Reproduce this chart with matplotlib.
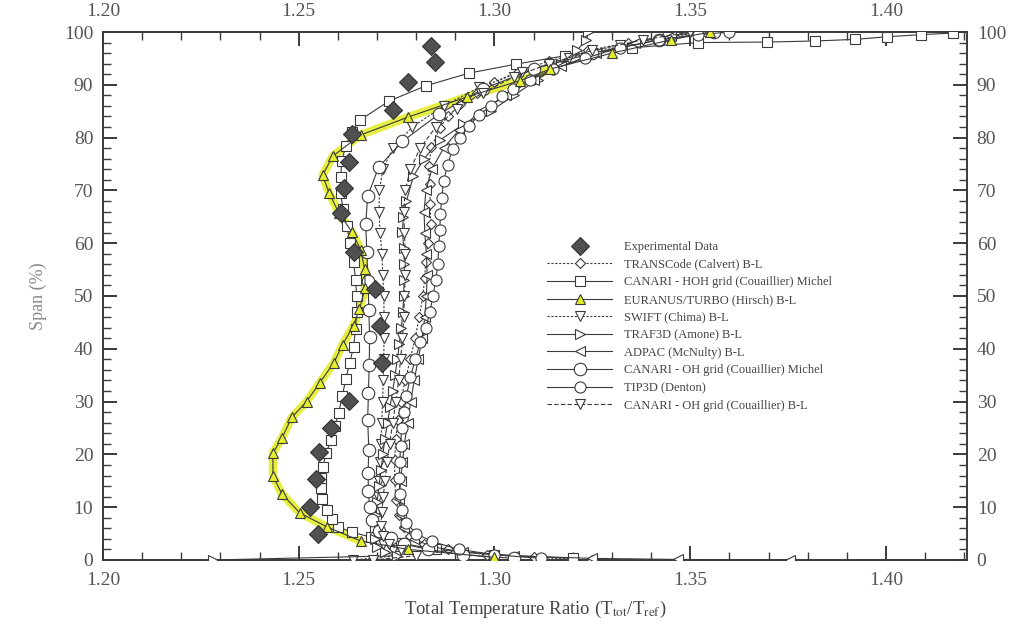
import matplotlib
matplotlib.use("Agg")
import matplotlib.pyplot as plt
from matplotlib.ticker import MultipleLocator, FormatStrFormatter

plt.rcParams['font.family'] = ['Liberation Serif', 'DejaVu Serif']
plt.rcParams['mathtext.fontset'] = 'stix'

# ---- data (x = Ttot/Tref, y = span %) ----
exp_y = [4.9, 10.1, 15.4, 20.5, 25.0, 30.2, 37.4, 44.4, 51.4, 58.3, 65.8, 70.4, 75.3, 80.6, 85.2, 90.5, 94.3, 97.3]
exp_x = [1.2548, 1.2528, 1.2543, 1.2551, 1.2582, 1.2628, 1.2712, 1.2707, 1.2694, 1.2640, 1.2607, 1.2615,
         1.2628, 1.2635, 1.2740, 1.2778, 1.2847, 1.2839]

transcode_y = [0, 0.5, 1.0, 2.0, 3.0, 4.5, 6.3, 8.5, 11.4, 15.2, 19.0, 23.0, 26.6, 30.0, 34.0, 38.0, 42.0,
               46.0, 50.0, 53.5, 56.5, 60.0, 63.6, 67.5, 71.2, 74.6, 78.2, 81.8, 84.0, 86.3, 88.5, 90.5,
               92.5, 94.5, 96.5, 98.0, 99.2, 100]
transcode_x = [1.325, 1.310, 1.298, 1.288, 1.282, 1.2785, 1.2770, 1.2755, 1.2748, 1.2745, 1.2745, 1.2748,
               1.2753, 1.2760, 1.2772, 1.2785, 1.2797, 1.2808, 1.2817, 1.2822, 1.2824, 1.2830, 1.2837,
               1.2836, 1.2834, 1.2832, 1.2839, 1.2860, 1.2880, 1.2913, 1.2955, 1.3000, 1.3060, 1.3140,
               1.3240, 1.3340, 1.3440, 1.3530]

hoh_y = [0.3, 1.0, 2.0, 3.2, 4.3, 5.3, 6.3, 7.8, 9.5, 11.5, 13.7, 15.6, 17.6, 20.2, 22.8, 25.3, 27.9, 31.0,
         34.2, 37.3, 40.4, 43.8, 47.0, 50.0, 53.1, 56.5, 60.0, 63.2, 66.4, 69.5, 72.5, 75.5, 78.5, 81.0,
         83.3, 86.9, 89.8, 92.2, 93.9, 95.5, 97.0, 98.0, 98.1, 98.3, 98.6, 99.1, 99.5, 99.8]
hoh_x = [1.320, 1.300, 1.285, 1.276, 1.2685, 1.2635, 1.2600, 1.2585, 1.2571, 1.2560, 1.2556, 1.2556,
         1.2561, 1.2570, 1.2582, 1.2592, 1.2602, 1.2611, 1.2620, 1.2630, 1.2640, 1.2645, 1.2648, 1.2648,
         1.2645, 1.2640, 1.2632, 1.2622, 1.2613, 1.2607, 1.2607, 1.2610, 1.2620, 1.2635, 1.2656, 1.2730,
         1.2824, 1.2934, 1.3054, 1.3180, 1.3350, 1.3520, 1.3696, 1.3819, 1.3920, 1.4003, 1.4090, 1.4170]

euranus_y = [0.5, 2.0, 3.6, 6.3, 8.9, 12.5, 15.9, 20.3, 23.1, 27.0, 30.0, 33.6, 37.4, 40.8, 44.4, 47.5,
             51.6, 55.2, 58.8, 62.2, 65.8, 69.6, 72.9, 76.5, 80.5, 83.9, 87.7, 90.8, 93.0, 96.0, 98.5, 100]
euranus_x = [1.300, 1.278, 1.2658, 1.2571, 1.2503, 1.2457, 1.2434, 1.2434, 1.2457, 1.2482, 1.2520, 1.2554,
             1.2590, 1.2612, 1.2640, 1.2655, 1.2670, 1.2668, 1.2658, 1.2635, 1.2602, 1.2577, 1.2561,
             1.2587, 1.2658, 1.2780, 1.2929, 1.3066, 1.3143, 1.3300, 1.3450, 1.3550]

swift_y = [0, 0.8, 1.8, 3.0, 4.5, 6.5, 9.0, 12.0, 15.0, 18.5, 22.0, 26.0, 30.0, 34.0, 38.0, 42.0, 46.0,
           50.0, 54.0, 58.0, 62.0, 66.0, 70.0, 74.0, 78.0, 82.0, 86.0, 89.5, 92.5, 95.0, 97.5, 99.0, 100]
swift_x = [1.2638, 1.2750, 1.2740, 1.2715, 1.2705, 1.2700, 1.2700, 1.2702, 1.2705, 1.2708, 1.2710, 1.2712,
           1.2714, 1.2716, 1.2717, 1.2718, 1.2718, 1.2717, 1.2715, 1.2712, 1.2708, 1.2705, 1.2706, 1.2715,
           1.2740, 1.2790, 1.2870, 1.2960, 1.3070, 1.3190, 1.3320, 1.3440, 1.3530]

traf_y = [0, 0.8, 1.5, 2.5, 4.0, 6.0, 8.5, 11.0, 14.0, 17.0, 20.0, 23.0, 26.0, 29.0, 32.0, 35.0, 38.0, 41.0,
          44.0, 47.0, 50.0, 53.0, 56.0, 59.0, 62.2, 65.0, 68.0, 72.7, 76.0, 79.5, 82.5, 85.0, 88.0, 91.0,
          94.0, 96.5, 98.5, 100]
traf_x = [1.228, 1.275, 1.272, 1.270, 1.2695, 1.2695, 1.2698, 1.2700, 1.2705, 1.2710, 1.2715, 1.2720,
          1.2727, 1.2733, 1.2740, 1.2746, 1.2752, 1.2757, 1.2762, 1.2766, 1.2768, 1.2769, 1.2770, 1.2768,
          1.2765, 1.2767, 1.2775, 1.2793, 1.2820, 1.2860, 1.2920, 1.2990, 1.3050, 1.3110, 1.3170, 1.3210,
          1.3235, 1.3240]

adpac_y = [0, 0.1, 0.3, 0.8, 1.5, 2.5, 4.0, 6.0, 8.5, 11.5, 15.0, 18.5, 22.0, 26.0, 30.0, 34.0, 38.0, 42.0,
           46.0, 50.0, 54.0, 58.0, 62.0, 66.0, 70.0, 74.0, 78.0, 81.5, 85.0, 88.0, 91.0, 93.5, 96.0, 98.0,
           99.3, 100]
adpac_x = [1.3755, 1.347, 1.325, 1.305, 1.292, 1.284, 1.2795, 1.2770, 1.2760, 1.2757, 1.2760, 1.2765,
           1.2770, 1.2778, 1.2786, 1.2795, 1.2805, 1.2815, 1.2822, 1.2826, 1.2828, 1.2826, 1.2822, 1.2820,
           1.2825, 1.2840, 1.2870, 1.2910, 1.2965, 1.3030, 1.3100, 1.3170, 1.3260, 1.3360, 1.3450, 1.3530]

ohm_y = [0.3, 1.0, 2.0, 3.0, 4.2, 5.5, 7.5, 10.0, 13.0, 16.5, 20.9, 26.6, 31.7, 37.0, 42.3, 47.4, 52.8,
         58.3, 63.6, 68.9, 74.4, 79.3, 84.4, 89.2, 93.0, 96.0, 98.5, 100]
ohm_x = [1.305, 1.292, 1.283, 1.277, 1.2735, 1.2705, 1.2688, 1.2681, 1.2678, 1.2677, 1.2679, 1.2676,
         1.2678, 1.2680, 1.2681, 1.2679, 1.2677, 1.2674, 1.2671, 1.2676, 1.2704, 1.2765, 1.2857, 1.2970,
         1.3100, 1.3250, 1.3420, 1.3560]

tip_y = [0.3, 1.0, 2.0, 3.5, 5.0, 7.0, 9.5, 12.5, 15.5, 18.5, 21.5, 25.0, 28.0, 31.0, 34.7, 38.0, 41.2,
         44.0, 47.0, 50.0, 53.1, 56.0, 59.4, 62.5, 65.5, 68.5, 71.7, 74.8, 77.8, 80.0, 82.2, 84.2, 86.0,
         87.8, 89.2, 91.0, 93.0, 95.0, 97.0, 98.5, 99.5, 100]
tip_x = [1.312, 1.300, 1.291, 1.284, 1.280, 1.2775, 1.2763, 1.2758, 1.2757, 1.2758, 1.2760, 1.2763,
         1.2768, 1.2775, 1.2785, 1.2798, 1.2810, 1.2825, 1.2835, 1.2843, 1.2850, 1.2855, 1.2858, 1.2860,
         1.2862, 1.2865, 1.2870, 1.2880, 1.2893, 1.2912, 1.2934, 1.2960, 1.2990, 1.3020, 1.3048, 1.3090,
         1.3150, 1.3230, 1.3320, 1.3420, 1.3520, 1.3600]

ohbl_y = [0, 0.8, 1.8, 3.0, 4.5, 6.5, 9.0, 12.0, 15.0, 18.5, 22.0, 26.0, 30.0, 34.0, 38.0, 42.0, 46.0,
          50.0, 54.0, 58.0, 62.0, 66.0, 70.0, 74.0, 78.0, 82.0, 85.5, 88.5, 91.5, 94.0, 96.5, 98.5, 100]
ohbl_x = [1.2689, 1.2800, 1.2760, 1.2730, 1.2715, 1.2710, 1.2712, 1.2716, 1.2720, 1.2726, 1.2732, 1.2740,
          1.2748, 1.2755, 1.2760, 1.2765, 1.2768, 1.2770, 1.2772, 1.2772, 1.2770, 1.2768, 1.2772, 1.2785,
          1.2810, 1.2850, 1.2905, 1.2970, 1.3050, 1.3140, 1.3250, 1.3380, 1.3500]

ink = '#3a3a3a'
yellow = '#e4ee2c'

fig = plt.figure(figsize=(10.18, 6.24), dpi=100)
ax = fig.add_axes([0.1012, 0.1026, 0.8487, 0.8461])

common = dict(color=ink, lw=0.8, mfc='white', mec=ink, mew=0.8)

# yellow highlight behind EURANUS/TURBO
ax.plot(euranus_x[2:29], euranus_y[2:29], color=yellow, lw=6, alpha=0.9, solid_capstyle='round', zorder=1)

ax.plot(transcode_x, transcode_y, ls=(0, (2, 1.5)), marker='D', ms=5.5,
        label='TRANSCode (Calvert) B-L', zorder=3, **common)
ax.plot(hoh_x, hoh_y, ls='-', marker='s', ms=6.5,
        label='CANARI - HOH grid (Couaillier) Michel', zorder=3, **common)
ax.plot(euranus_x, euranus_y, ls='-', marker='^', ms=6.5, color=ink, lw=0.8, mfc=yellow, mec=ink, mew=0.8,
        label='EURANUS/TURBO (Hirsch) B-L', zorder=4)
ax.plot(swift_x, swift_y, ls=(0, (2, 1.5)), marker='v', ms=6.5,
        label='SWIFT (Chima) B-L', zorder=3, **common)
ax.plot(traf_x, traf_y, ls='-', marker='>', ms=6.5,
        label='TRAF3D (Amone) B-L', zorder=3, **common)
ax.plot(adpac_x, adpac_y, ls='-', marker='<', ms=6.5,
        label='ADPAC (McNulty) B-L', zorder=3, **common)
ax.plot(ohm_x, ohm_y, ls='-', marker='o', ms=9,
        label='CANARI - OH grid (Couaillier) Michel', zorder=3, **common)
ax.plot(tip_x, tip_y, ls='-', marker='o', ms=8,
        label='TIP3D (Denton)', zorder=3, **common)
ax.plot(ohbl_x, ohbl_y, ls=(0, (4, 2)), marker='v', ms=6.5,
        label='CANARI - OH grid (Couaillier) B-L', zorder=3, **common)

ax.plot(exp_x, exp_y, ls='none', marker='D', ms=9, mfc='#505050', mec='#333333', mew=0.8,
        label='Experimental Data', zorder=5)

ax.set_xlim(1.20, 1.4207)
ax.set_ylim(0, 100)

ax.xaxis.set_major_locator(MultipleLocator(0.05))
ax.xaxis.set_minor_locator(MultipleLocator(0.01))
ax.xaxis.set_major_formatter(FormatStrFormatter('%.2f'))
ax.yaxis.set_major_locator(MultipleLocator(10))
ax.yaxis.set_minor_locator(MultipleLocator(2))

ax.tick_params(which='both', direction='in', top=True, right=True, labeltop=True, labelright=True,
               colors=ink, labelcolor='#555555', labelsize=14, width=1.0)
ax.tick_params(which='major', length=10, width=1.4)
ax.tick_params(which='minor', length=6)
ax.tick_params(axis='x', which='major', pad=9)
ax.tick_params(axis='y', which='major', pad=7)
for sp in ax.spines.values():
    sp.set_color(ink)
    sp.set_linewidth(1.4)

ax.set_ylabel('Span (%)', fontsize=13, color='#8a8a8a', labelpad=12)
ax.set_xlabel(r'Total Temperature Ratio (T$_{\mathrm{tot}}$/T$_{\mathrm{ref}}$)', fontsize=13.5,
              color='#444444', labelpad=7)

h, l = ax.get_legend_handles_labels()
order = [len(h) - 1] + list(range(len(h) - 1))
leg = fig.legend([h[i] for i in order], [l[i] for i in order], loc='upper left',
                 bbox_to_anchor=(547 / 1018, 1 - 241 / 624), frameon=False, fontsize=9,
                 handlelength=5.2, handletextpad=1.0, labelspacing=0.45, borderpad=0, borderaxespad=0)
for t in leg.get_texts():
    t.set_color('#444444')

fig.savefig('out.png', dpi=100, facecolor='white')
